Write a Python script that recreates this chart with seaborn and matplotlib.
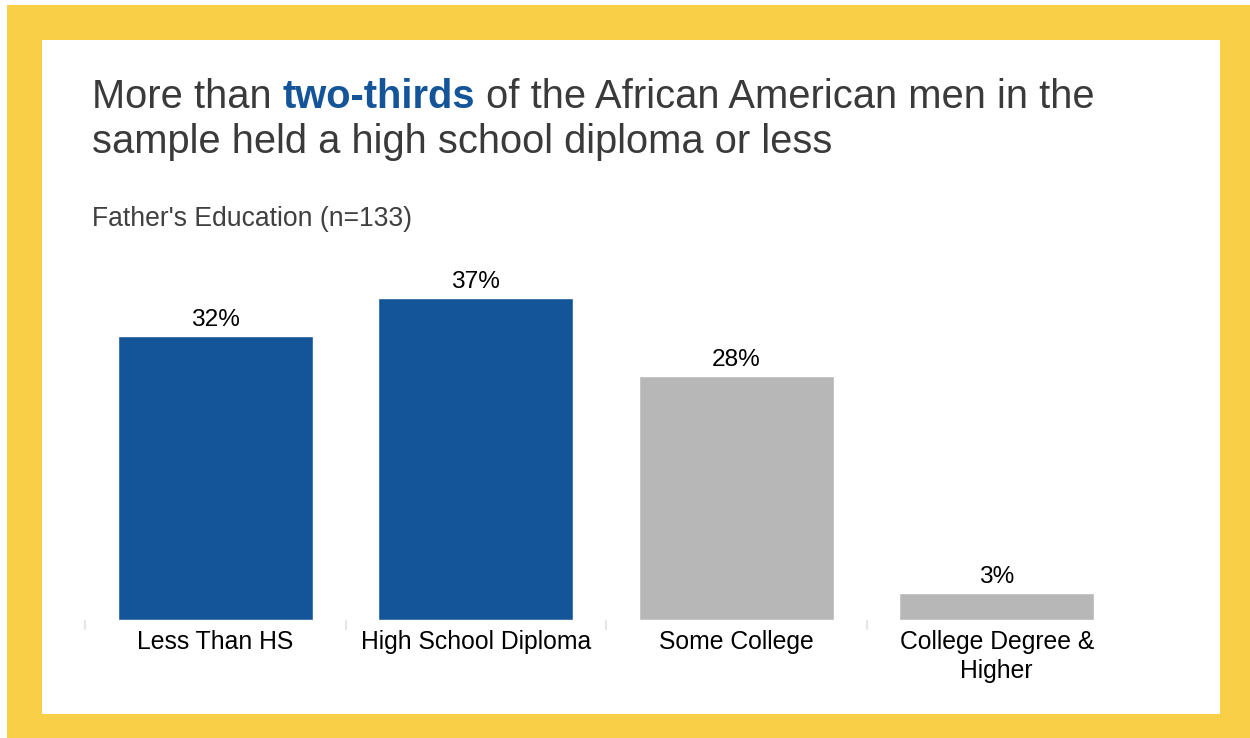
import matplotlib
matplotlib.use("Agg")
import matplotlib.pyplot as plt
import seaborn as sns
import pandas as pd
from matplotlib.patches import Rectangle

categories = ["Less Than HS", "High School Diploma", "Some College", "College Degree &\nHigher"]
values = [32.5, 36.8, 27.9, 3.1]
value_labels = ["32%", "37%", "28%", "3%"]
bar_colors = ["#14559A", "#14559A", "#B7B7B7", "#B7B7B7"]

title_parts_line1 = [("More than ", "normal", "#3A3A3A"),
                     ("two-thirds", "bold", "#14559A"),
                     (" of the African American men in the", "normal", "#3A3A3A")]
title_line2 = "sample held a high school diploma or less"
subtitle = "Father's Education (n=133)"

sns.set_theme(style="white")
plt.rcParams['font.family'] = ['Liberation Sans', 'DejaVu Sans']

W, H = 1250, 738
fig = plt.figure(figsize=(W / 100, H / 100), dpi=100)
fig.patch.set_facecolor("white")

def px(x, y):
    return x / W, 1 - y / H

# yellow frame and white panel
fig.patches.append(Rectangle((7 / W, 0), (W - 7) / W, (H - 5) / H, transform=fig.transFigure,
                             facecolor="#F9CF48", edgecolor="none", zorder=-10))
fig.patches.append(Rectangle((42 / W, 1 - 714 / H), (1220 - 42) / W, (714 - 40) / H,
                             transform=fig.transFigure, facecolor="white", edgecolor="none", zorder=-9))

ax_left, ax_right, ax_bottom, ax_top = 85, 1127, 620, 270
ax = fig.add_axes([ax_left / W, 1 - ax_bottom / H, (ax_right - ax_left) / W, (ax_bottom - ax_top) / H])
ax.set_facecolor("none")

df = pd.DataFrame({"cat": categories, "val": values})
sns.barplot(data=df, x="cat", y="val", hue="cat", palette=bar_colors, width=0.75,
            legend=False, ax=ax, saturation=1)

ax.set_ylim(0, 40)
ax.set_xlim(-0.5, 3.5)
ax.set_xlabel("")
ax.set_ylabel("")
ax.set_yticks([])
for s in ax.spines.values():
    s.set_visible(False)

ax.tick_params(axis="x", which="major", length=0, pad=7.5, labelsize=17.8, labelcolor="black")
ax.set_xticks(range(len(categories)))
ax.set_xticklabels(categories, linespacing=1.25)
ax.set_xticks([-0.5, 0.5, 1.5, 2.5], minor=True)
ax.tick_params(axis="x", which="minor", length=7, width=1.5, color="#E6E6E6", bottom=True)

for i, (v, lab) in enumerate(zip(values, value_labels)):
    ax.annotate(lab, (i, v), xytext=(0, 3.5), textcoords="offset points",
                ha="center", va="bottom", fontsize=17.6, color="black")

# title with mixed styling
fig.canvas.draw()
renderer = fig.canvas.get_renderer()
x0, y0 = px(92, 108)
x = x0
for txt, weight, col in title_parts_line1:
    t = fig.text(x, y0, txt, fontsize=28.7, fontweight=weight, color=col, ha="left", va="baseline")
    bb = t.get_window_extent(renderer=renderer)
    x = x + bb.width / W
fig.text(x0, px(92, 153)[1], title_line2, fontsize=28.7, color="#3A3A3A", ha="left", va="baseline")
fig.text(x0, px(92, 226)[1], subtitle, fontsize=19.1, color="#404040", ha="left", va="baseline")

fig.savefig("out.png", dpi=100, facecolor=fig.get_facecolor())
